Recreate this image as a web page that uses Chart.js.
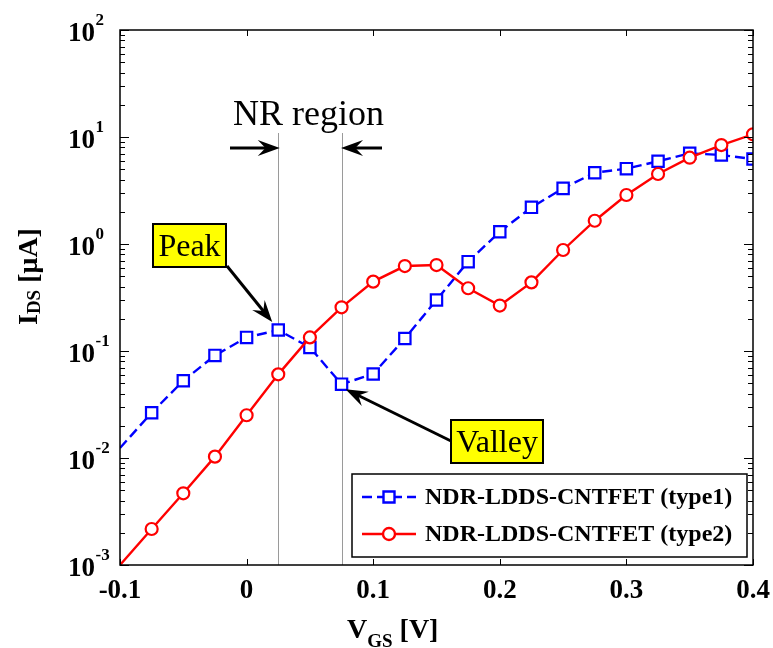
<!DOCTYPE html>
<html lang="en">
<head>
<meta charset="UTF-8">
<title>NDR-LDDS-CNTFET transfer characteristics</title>
<style>
  html, body { margin: 0; padding: 0; background: #fff; }
  #wrap { width: 773px; height: 648px; }
</style>
</head>
<body>
<div id="wrap"><canvas id="ivChart" width="773" height="648"></canvas></div>

<script src="https://cdn.jsdelivr.net/npm/chart.js@4.4.0/dist/chart.umd.min.js"></script>
<script>
// gate voltage sweep [V]
var vgs = [-0.1, -0.075, -0.05, -0.025, 0, 0.025, 0.05, 0.075, 0.1, 0.125, 0.15,
           0.175, 0.2, 0.225, 0.25, 0.275, 0.3, 0.325, 0.35, 0.375, 0.4];
// drain current [uA]
var idsType1 = [0.0124, 0.0265, 0.0527, 0.091, 0.134, 0.157, 0.108, 0.049, 0.061, 0.131, 0.30,
                0.684, 1.30, 2.20, 3.31, 4.64, 5.06, 5.93, 7.04, 6.79, 6.23];
var idsType2 = [0.00100, 0.00217, 0.00468, 0.0103, 0.0251, 0.0605, 0.134, 0.256, 0.445, 0.622, 0.636,
                0.386, 0.266, 0.438, 0.879, 1.65, 2.87, 4.51, 6.41, 8.41, 10.6];
var seriesLabels = ['NDR-LDDS-CNTFET (type1)', 'NDR-LDDS-CNTFET (type2)'];

var xTickLabels = ['-0.1', '0', '0.1', '0.2', '0.3', '0.4'];
var yTickExponents = ['-3', '-2', '-1', '0', '1', '2'];

// NR region bounds = peak and valley of type1
var peakVgs = 0.025, peakIds = 0.157;
var valleyVgs = 0.075, valleyIds = 0.049;

var SERIF = '"Liberation Serif", "Times New Roman", serif';

function toPoints(xs, ys) {
    return xs.map(function (x, i) { return { x: x, y: ys[i] }; });
}

// draw a row of text pieces (for sub/superscripts)
function drawRuns(ctx, x, y, runs) {
    ctx.textAlign = 'left';
    ctx.textBaseline = 'alphabetic';
    runs.forEach(function (r) {
        ctx.font = r.font;
        ctx.fillText(r.text, x, y + (r.dy || 0));
        x += ctx.measureText(r.text).width;
    });
    return x;
}

function arrow(ctx, x1, y1, x2, y2) {
    var a = Math.atan2(y2 - y1, x2 - x1);
    var L = 22, W = 8;
    ctx.save();
    ctx.strokeStyle = '#000';
    ctx.fillStyle = '#000';
    ctx.lineWidth = 3;
    ctx.beginPath();
    ctx.moveTo(x1, y1);
    ctx.lineTo(x2 - Math.cos(a) * L * 0.6, y2 - Math.sin(a) * L * 0.6);
    ctx.stroke();
    ctx.translate(x2, y2);
    ctx.rotate(a);
    ctx.beginPath();
    ctx.moveTo(0, 0);
    ctx.lineTo(-L, -W);
    ctx.lineTo(-L * 0.65, 0);
    ctx.lineTo(-L, W);
    ctx.closePath();
    ctx.fill();
    ctx.restore();
}

function labelBox(ctx, text, left, top, w, h) {
    ctx.save();
    ctx.fillStyle = '#ffff00';
    ctx.fillRect(left, top, w, h);
    ctx.strokeStyle = '#000';
    ctx.lineWidth = 2;
    ctx.strokeRect(left, top, w, h);
    ctx.fillStyle = '#000';
    ctx.font = '32px ' + SERIF;
    ctx.textAlign = 'center';
    ctx.textBaseline = 'middle';
    ctx.fillText(text, left + w / 2, top + h / 2 + 2);
    ctx.restore();
}

var nrGuides = {
    id: 'nrGuides',
    beforeDatasetsDraw: function (chart) {
        var ctx = chart.ctx, xs = chart.scales.x, area = chart.chartArea;
        ctx.save();
        ctx.strokeStyle = '#9a9a9a';
        ctx.lineWidth = 1;
        [peakVgs, valleyVgs].forEach(function (v) {
            var px = Math.round(xs.getPixelForValue(v)) + 0.5;
            ctx.beginPath();
            ctx.moveTo(px, 133);
            ctx.lineTo(px, area.bottom);
            ctx.stroke();
        });
        ctx.restore();
    }
};

var frame = {
    id: 'frame',
    afterDatasetsDraw: function (chart) {
        var ctx = chart.ctx, a = chart.chartArea;
        var xs = chart.scales.x, ys = chart.scales.y;
        ctx.save();

        // axes box
        ctx.strokeStyle = '#000';
        ctx.lineWidth = 1.5;
        ctx.strokeRect(a.left, a.top, a.right - a.left, a.bottom - a.top);

        // inward ticks, log y
        ctx.lineWidth = 1;
        ctx.beginPath();
        for (var e = -3; e <= 2; e++) {
            for (var m = 1; m <= 9; m++) {
                if (e === 2 && m > 1) break;
                var py = Math.round(ys.getPixelForValue(m * Math.pow(10, e))) + 0.5;
                var len = m === 1 ? 9 : 5;
                ctx.moveTo(a.left, py); ctx.lineTo(a.left + len, py);
                ctx.moveTo(a.right, py); ctx.lineTo(a.right - len, py);
            }
        }
        // x ticks
        xTickLabels.forEach(function (t) {
            var px = Math.round(xs.getPixelForValue(parseFloat(t))) + 0.5;
            ctx.moveTo(px, a.bottom); ctx.lineTo(px, a.bottom - 6);
            ctx.moveTo(px, a.top); ctx.lineTo(px, a.top + 6);
        });
        ctx.stroke();

        ctx.fillStyle = '#000';
        // y tick labels 10^n
        yTickExponents.forEach(function (ex) {
            var py = ys.getPixelForValue(Math.pow(10, parseInt(ex, 10)));
            ctx.font = 'bold 27px ' + SERIF;
            ctx.textAlign = 'right';
            ctx.textBaseline = 'alphabetic';
            ctx.fillText('10', 95, py + 10.5);
            ctx.font = 'bold 17px ' + SERIF;
            ctx.textAlign = 'left';
            ctx.fillText(ex, 95.5, py - 5);
        });
        // x tick labels
        ctx.font = 'bold 27px ' + SERIF;
        ctx.textAlign = 'center';
        xTickLabels.forEach(function (t) {
            ctx.fillText(t, xs.getPixelForValue(parseFloat(t)), 598);
        });

        // axis titles
        drawRuns(ctx, 347, 638, [
            { text: 'V', font: 'bold 28px ' + SERIF },
            { text: 'GS', font: 'bold 19px ' + SERIF, dy: 9 },
            { text: ' [V]', font: 'bold 28px ' + SERIF }
        ]);
        ctx.save();
        ctx.translate(37, 325);
        ctx.rotate(-Math.PI / 2);
        drawRuns(ctx, 0, 0, [
            { text: 'I', font: 'bold 28px ' + SERIF },
            { text: 'DS', font: 'bold 19px ' + SERIF, dy: 3 },
            { text: ' [\u03bcA]', font: 'bold 28px ' + SERIF }
        ]);
        ctx.restore();

        // NR region annotation
        var xp = xs.getPixelForValue(peakVgs), xv = xs.getPixelForValue(valleyVgs);
        ctx.font = '36px ' + SERIF;
        ctx.textAlign = 'left';
        ctx.fillText('NR region', 233, 125);
        arrow(ctx, 230, 148, xp + 1.5, 148);
        arrow(ctx, 382, 148, xv - 0.5, 148);

        // peak / valley callouts
        var yp = ys.getPixelForValue(peakIds), yv = ys.getPixelForValue(valleyIds);
        labelBox(ctx, 'Peak', 153, 224, 73, 43);
        arrow(ctx, 227, 266, xp - 6, yp - 8);
        labelBox(ctx, 'Valley', 451, 420, 92, 43);
        arrow(ctx, 451, 441, xv + 4, yv + 5);

        // legend
        var lx = 352, ly = 474, lw = 395, lh = 83;
        ctx.fillStyle = '#fff';
        ctx.fillRect(lx, ly, lw, lh);
        ctx.strokeStyle = '#000';
        ctx.lineWidth = 1.5;
        ctx.strokeRect(lx, ly, lw, lh);
        chart.data.datasets.forEach(function (ds, i) {
            var ry = ly + 23 + i * 37;
            ctx.strokeStyle = ds.borderColor;
            ctx.lineWidth = ds.borderWidth;
            ctx.setLineDash(ds.borderDash || []);
            ctx.beginPath();
            ctx.moveTo(362, ry); ctx.lineTo(416, ry);
            ctx.stroke();
            ctx.setLineDash([]);
            ctx.fillStyle = '#fff';
            ctx.beginPath();
            if (ds.pointStyle === 'rect') ctx.rect(383.5, ry - 5.5, 11, 11);
            else ctx.arc(389, ry, 6, 0, Math.PI * 2);
            ctx.fill();
            ctx.stroke();
            ctx.fillStyle = '#000';
            ctx.font = 'bold 24px ' + SERIF;
            ctx.textAlign = 'left';
            ctx.textBaseline = 'middle';
            ctx.fillText(ds.label, 425, ry + 1);
        });

        ctx.restore();
    }
};

function hideFirst(r) {
    return function (c) { return c.dataIndex === 0 ? 0 : r; };
}

new Chart(document.getElementById('ivChart'), {
    type: 'line',
    data: {
        datasets: [{
            label: seriesLabels[0],
            data: toPoints(vgs, idsType1),
            borderColor: '#0000ff',
            backgroundColor: '#ffffff',
            borderWidth: 2.4,
            borderDash: [10, 5],
            pointStyle: 'rect',
            pointRadius: hideFirst(8),
            pointBorderWidth: 2.2,
            pointBackgroundColor: '#ffffff',
            order: 1
        }, {
            label: seriesLabels[1],
            data: toPoints(vgs, idsType2),
            borderColor: '#ff0000',
            backgroundColor: '#ffffff',
            borderWidth: 2.4,
            pointStyle: 'circle',
            pointRadius: hideFirst(6),
            pointBorderWidth: 2.2,
            pointBackgroundColor: '#ffffff',
            order: 0
        }]
    },
    options: {
        responsive: false,
        animation: false,
        events: [],
        layout: { padding: { left: 0, top: 30, right: 20, bottom: 0 } },
        plugins: { legend: { display: false }, tooltip: { enabled: false } },
        scales: {
            x: {
                type: 'linear', min: -0.1, max: 0.4,
                grid: { display: false }, border: { display: false },
                ticks: { display: false, stepSize: 0.1 },
                afterFit: function (s) { s.height = 83; }
            },
            y: {
                type: 'logarithmic', min: 0.001, max: 100,
                grid: { display: false }, border: { display: false },
                ticks: { display: false },
                afterFit: function (s) { s.width = 120; }
            }
        }
    },
    plugins: [nrGuides, frame]
});
</script>
</body>
</html>
